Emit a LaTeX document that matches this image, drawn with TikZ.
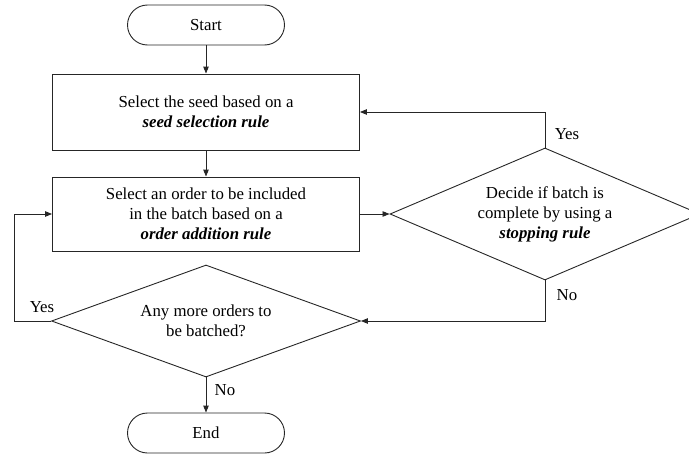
\documentclass[tikz,border=0pt]{standalone}
\usepackage{fontspec}
\setmainfont{Liberation Serif}
\usetikzlibrary{shapes.geometric,arrows.meta}
\begin{document}
\begin{tikzpicture}[x=1pt,y=-1pt,
  font=\fontsize{16.8}{20}\selectfont,
  line width=0.9pt,
  terminal/.style={draw=black!85, rounded corners=20pt, minimum width=157pt,
    minimum height=40pt, inner sep=0pt},
  process/.style={draw=black!85, minimum width=307pt, minimum height=#1,
    align=center, inner sep=0pt},
  decision/.style={draw=black!85, diamond, align=center, inner sep=0pt},
  flow/.style={draw=black!85, -{Triangle[length=7pt,width=5.5pt]}},
  lbl/.style={inner sep=0pt}]
  \useasboundingbox (0,0) rectangle (689,455);

  % terminals and process steps
  \node[terminal] (start) at (206,25) {Start};
  \node[process=76pt] (seed) at (206,112)
    {Select the seed based on a\\ \textbf{\textit{seed selection rule}}};
  \node[process=74pt] (add) at (206,214)
    {Select an order to be included\\ in the batch based on a\\
     \textbf{\textit{order addition rule}}};

  % decisions
  \node[decision, aspect=2.35, minimum width=310pt, minimum height=132pt]
    (stop) at (545,214)
    {Decide if batch is\\ complete by using a\\ \textbf{\textit{stopping rule}}};
  \node[decision, aspect=2.76, minimum width=309pt, minimum height=112pt]
    (more) at (206,321)
    {Any more orders to\\ be batched?};
  \node[terminal] (end) at (206,433) {End};

  \coordinate (loop) at (14,321);

  % connectors
  \draw[flow] (start) -- (seed);
  \draw[flow] (seed) -- (add);
  \draw[flow] (add) -- (stop);
  \draw[flow] (stop.north) |- (seed.east);
  \draw[flow] (stop.south) |- (more.east);
  \draw[flow] (more.west) -- (loop) |- (add.west);
  \draw[flow] (more) -- (end);

  % branch labels
  \node[lbl] (yes1) at (567,134) {Yes};
  \node[lbl] (no1) at (567,295) {No};
  \node[lbl] (yes2) at (42,307) {Yes};
  \node[lbl] (no2) at (225,390) {No};
\end{tikzpicture}
\end{document}
